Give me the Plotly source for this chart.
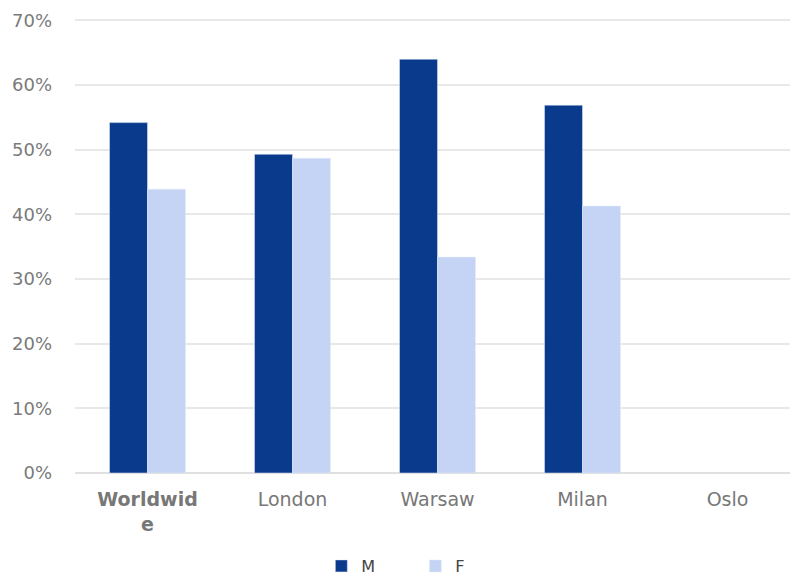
import plotly.graph_objects as go

categories = ["<b>Worldwid<br>e</b>", "London", "Warsaw", "Milan", "Oslo"]
m_values = [54.2, 49.3, 64.0, 56.9, None]
f_values = [43.9, 48.7, 33.4, 41.3, None]
y_ticks = [0, 10, 20, 30, 40, 50, 60, 70]
y_tick_labels = ["0%", "10%", "20%", "30%", "40%", "50%", "60%", "70%"]

fig = go.Figure()
fig.add_trace(go.Bar(x=categories, y=m_values, name="M", marker_color="#0a3a8c"))
fig.add_trace(go.Bar(x=categories, y=f_values, name="F", marker_color="#c5d3f5"))

fig.update_layout(
    width=790, height=583,
    margin=dict(l=75, r=0, t=14, b=110),
    paper_bgcolor="white", plot_bgcolor="white",
    barmode="group", bargap=0.476, bargroupgap=0,
    font=dict(family="DejaVu Sans", size=16, color="#6e6e6e"),
    showlegend=True,
    legend=dict(orientation="h", x=0.476, xanchor="center",
                yref="container", y=0.0, yanchor="bottom",
                font=dict(size=16, color="#444444"), entrywidth=49, traceorder="normal"),
    xaxis=dict(range=[-0.5, 4.431], showgrid=False, showline=False, ticks="",
               automargin=False, ticklabelstandoff=13,
               tickfont=dict(size=19, color="#777777")),
    yaxis=dict(range=[0, 71], tickvals=y_ticks, ticktext=y_tick_labels,
               showgrid=True, gridcolor="#e8e8e8", gridwidth=1.5, zeroline=True,
               zerolinecolor="#e0e0e0", zerolinewidth=1.5, ticks="", ticklabelstandoff=22,
               automargin=False, tickfont=dict(size=18, color="#7a7a7a")),
)

fig.write_html("out.html", config={"displayModeBar": False},
               post_script="document.body.style.margin='0';")
